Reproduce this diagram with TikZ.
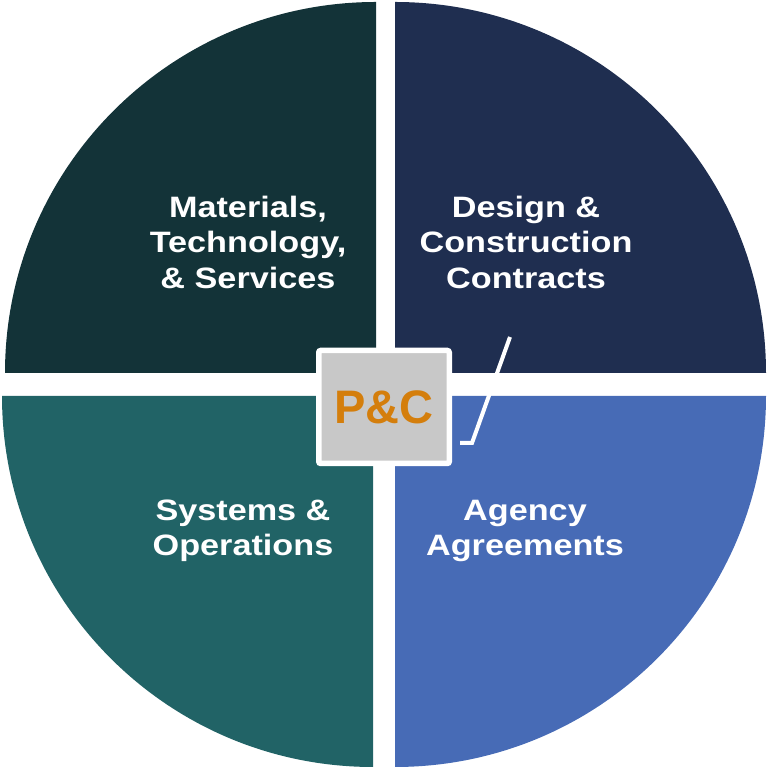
\documentclass[tikz,border=0pt]{standalone}
\usepackage{fontspec}
\setmainfont{Liberation Sans}[FakeStretch=1.16]
\newfontfamily\pcfont{Liberation Sans}
\usetikzlibrary{positioning}
\definecolor{matdark}{HTML}{133338}
\definecolor{designnavy}{HTML}{1F2E50}
\definecolor{systeal}{HTML}{216366}
\definecolor{agencyblue}{HTML}{476BB6}
\definecolor{boxgray}{HTML}{C8C8C8}
\definecolor{pcorange}{HTML}{D47E0C}

\begin{document}
\begin{tikzpicture}[x=1pt,y=1pt]

          % Setup the styles for the labels and the centre box
          \tikzset{label style/.style={text=white,
                                       align=center,
                                       font=\bfseries\fontsize{29.5}{35.5}\selectfont},
                   box style/.style={draw=white,
                                     line width=5.5pt,
                                     fill=boxgray,
                                     rounded corners=2pt,
                                     minimum width=130.5pt,
                                     minimum height=113pt,
                                     text=pcorange,
                                     font=\pcfont\bfseries\fontsize{47}{50}\selectfont}}
          \useasboundingbox (0,0) rectangle (772,767);
          % Draw the quadrants
          \fill[matdark] (376,394) -- (5,394) arc[start angle=180, end angle=90, radius=371pt] -- cycle;
          \fill[designnavy] (395,394) -- (395,765) arc[start angle=90, end angle=0, radius=371pt] -- cycle;
          \fill[systeal] (373,371) -- (2,371) arc[start angle=180, end angle=270, radius=371pt] -- cycle;
          \fill[agencyblue] (395,371) -- (766,371) arc[start angle=0, end angle=-90, radius=371pt] -- cycle;
          % Draw the labels
          \node[label style] at (248, 525)      (materials) {Materials,\\Technology,\\\& Services};
          \node[label style] at (526, 525)      (design)    {Design \&\\Construction\\Contracts};
          \node[label style] at (243, 236)      (systems)   {Systems \&\\Operations};
          \node[label style] at (525, 236)      (agency)    {Agency\\Agreements};
          % Centre box
          \node[box style] at (384, 360)        (pc)        {P\&C};
          % White tick
          \coordinate (tick top)  at (510, 430);
          \coordinate (tick bend) at (472, 324);
          \coordinate (tick end)  at (460, 324);
          \draw[white, line width=4pt] (tick top) -- (tick bend) -- (tick end);
      \end{tikzpicture}
\end{document}
